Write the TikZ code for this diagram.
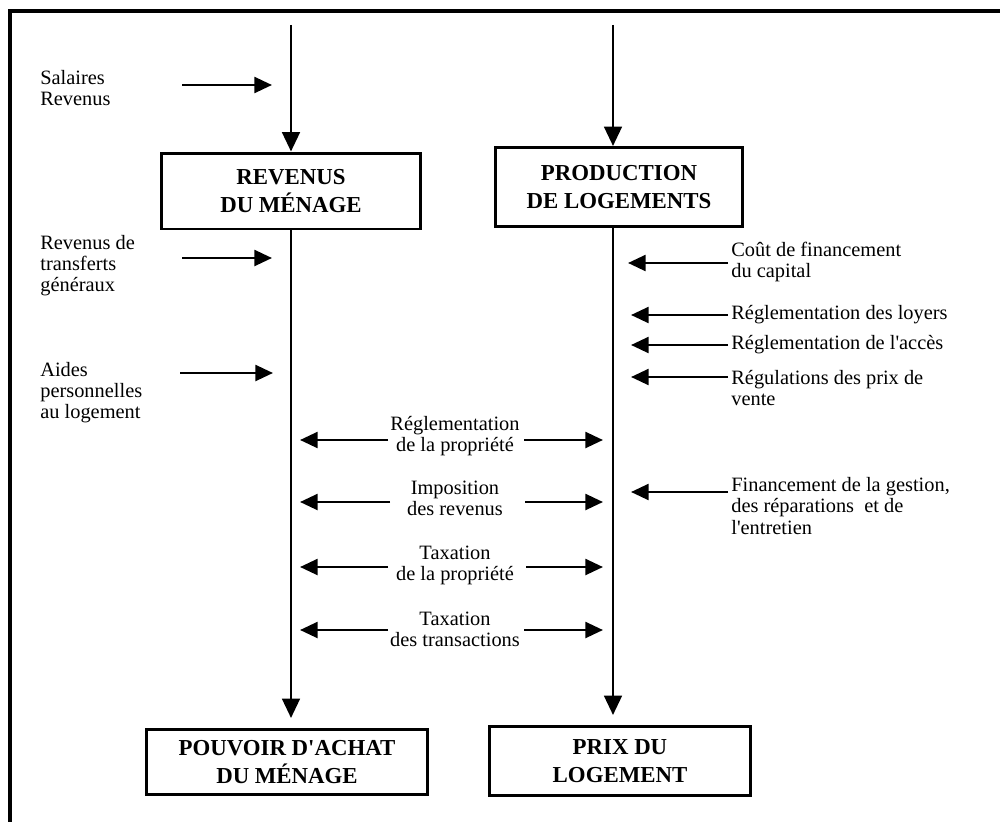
\documentclass[tikz,border=0pt]{standalone}
\usepackage{fontspec}
\setmainfont{Liberation Serif}
\usetikzlibrary{arrows.meta}

\begin{document}
\begin{tikzpicture}[x=0.02cm, y=-0.02cm,
    block/.style ={draw, line width=1.7pt, align=center, inner sep=2pt,
                   font=\fontsize{13}{16}\selectfont\bfseries},
    factor/.style ={align=left, inner sep=0pt, font=\fontsize{11.6}{12}\selectfont},
    measure/.style ={align=center, inner sep=0pt, font=\fontsize{11.6}{12}\selectfont},
    flow/.style ={line width=1.6pt, -{Triangle[length=11pt,width=10pt]}},
    push/.style ={line width=1.5pt, -{Triangle[length=10pt,width=9pt]}}]
   \useasboundingbox (0,0) rectangle (1000,821);
   \clip (0,0) rectangle (1000,821);
   \draw[line width=1.8pt] (10,11) rectangle (1020,840);

   % boxes
   \node[block, minimum width=5.2cm, minimum height=1.52cm] (revenus) at (291,191) {REVENUS\\DU MÉNAGE};
   \node[block, minimum width=4.94cm, minimum height=1.58cm] (production) at (619,187) {PRODUCTION\\DE LOGEMENTS};
   \node[block, minimum width=5.62cm, minimum height=1.3cm] (pouvoir) at (287,762) {POUVOIR D\textquotesingle ACHAT\\DU MÉNAGE};
   \node[block, minimum width=5.24cm, minimum height=1.38cm] (prix) at (620,761) {PRIX DU\\LOGEMENT};

   % main flows
   \coordinate (inL) at (291,25);
   \coordinate (inR) at (613,25);
   \draw[flow] (inL) -- (revenus.north);
   \draw[flow] (inR) -- (inR |- production.north);
   \draw[flow, shorten >=0.2cm] (revenus.south) -- (revenus.south |- pouvoir.north);
   \draw[flow, shorten >=0.2cm] (inR |- production.south) -- (inR |- prix.north);

   % household side
   \node[factor, anchor=west] (salaires) at (40,88) {Salaires\\Revenus};
   \node[factor, anchor=west] (transferts) at (40,266) {Revenus de\\transferts\\généraux};
   \node[factor, anchor=west] (aides) at (40,393) {Aides\\personnelles\\au logement};
   \coordinate (salS) at (182,85);   \coordinate (salE) at (272,85);
   \coordinate (traS) at (182,258);  \coordinate (traE) at (272,258);
   \coordinate (aidS) at (180,373);  \coordinate (aidE) at (273,373);
   \draw[push] (salS) -- (salE);
   \draw[push] (traS) -- (traE);
   \draw[push] (aidS) -- (aidE);

   % housing side
   \node[factor, anchor=west] (cout) at (731,262) {Coût de financement\\du capital};
   \node[factor, anchor=west] (loyers) at (731,315) {Réglementation des loyers};
   \node[factor, anchor=west] (acces) at (731,345) {Réglementation de l\textquotesingle accès};
   \node[factor, anchor=west] (prixvente) at (731,388) {Régulations des prix de\\vente};
   \node[factor, anchor=west] (gestion) at (731,506) {Financement de la gestion,\\des réparations\ \ et de\\l\textquotesingle entretien};
   \coordinate (coutS) at (728,263);  \coordinate (coutE) at (628,263);
   \coordinate (loyS) at (728,315);   \coordinate (loyE) at (631,315);
   \coordinate (accS) at (728,345);   \coordinate (accE) at (631,345);
   \coordinate (venS) at (728,377);   \coordinate (venE) at (631,377);
   \coordinate (gesS) at (728,492);   \coordinate (gesE) at (631,492);
   \draw[push] (coutS) -- (coutE);
   \draw[push] (loyS) -- (loyE);
   \draw[push] (accS) -- (accE);
   \draw[push] (venS) -- (venE);
   \draw[push] (gesS) -- (gesE);

   % measures acting on both sides
   \node[measure] (propriete) at (455,436) {Réglementation\\de la propriété};
   \node[measure] (imposition) at (455,498) {Imposition\\des revenus};
   \node[measure] (taxprop) at (455,565) {Taxation\\de la propriété};
   \node[measure] (taxtrans) at (455,629) {Taxation\\des transactions};
   \coordinate (proL) at (388,440);  \coordinate (proR) at (524,440);
   \coordinate (impL) at (390,502);  \coordinate (impR) at (525,502);
   \coordinate (tpL) at (388,567);   \coordinate (tpR) at (526,567);
   \coordinate (ttL) at (388,630);   \coordinate (ttR) at (524,630);
   \draw[push] (proL) -- (300,440);
   \draw[push] (proR) -- (603,440);
   \draw[push] (impL) -- (300,502);
   \draw[push] (impR) -- (603,502);
   \draw[push] (tpL) -- (300,567);
   \draw[push] (tpR) -- (603,567);
   \draw[push] (ttL) -- (300,630);
   \draw[push] (ttR) -- (603,630);
 \end{tikzpicture}
\end{document}
